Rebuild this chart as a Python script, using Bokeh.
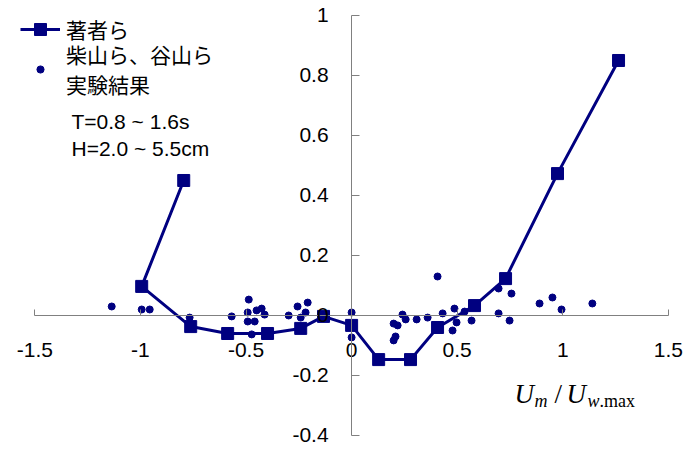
from bokeh.plotting import figure
from bokeh.models import Range1d, FixedTicker, CustomJSTickFormatter, Legend, LegendItem, Label
from bokeh.embed import file_html
from bokeh.resources import INLINE

# ---- data -------------------------------------------------------------
# 著者ら (line + square markers), in drawing order
author_x = [-0.795, -0.994, -0.762, -0.587, -0.398, -0.241, -0.133, 0.0,
            0.128, 0.279, 0.407, 0.582, 0.729, 0.975, 1.264]
author_y = [0.45, 0.097, -0.037, -0.06, -0.06, -0.043, -0.003, -0.033,
            -0.147, -0.147, -0.04, 0.033, 0.123, 0.473, 0.85]

# 柴山ら、谷山ら 実験結果 (dots)
exp_x = [-1.136, -0.994, -0.956, -0.767, -0.568, -0.487, -0.492, -0.45, -0.426,
         -0.412, -0.492, -0.459, -0.473, -0.298, -0.256, -0.208, -0.218, -0.241,
         0.0, 0.0, 0.407, 0.241, 0.256, 0.308, 0.36, 0.431, 0.199, 0.218, 0.199,
         0.208, 0.696, 0.757, 0.89, 0.951, 0.994, 1.14, 0.696, 0.748, 0.487,
         0.535, 0.497, 0.568, 0.478]
exp_y = [0.03, 0.02, 0.02, -0.007, -0.003, 0.053, 0.01, 0.017, 0.023,
         0.003, -0.02, -0.02, -0.063, 0.0, 0.03, 0.043, 0.01, -0.007,
         0.01, -0.073, 0.13, 0.003, -0.013, -0.013, -0.007, 0.007, -0.027, -0.033, -0.083,
         -0.07, 0.09, 0.073, 0.04, 0.06, 0.02, 0.04, 0.007, -0.017, 0.023,
         0.013, -0.023, -0.017, -0.05]

x_ticks = [-1.5, -1, -0.5, 0, 0.5, 1, 1.5]
y_ticks = [-0.4, -0.2, 0, 0.2, 0.4, 0.6, 0.8, 1]
x_bounds = (-1.5, 1.5)
y_bounds = (-0.4, 1.0)

legend_author = "著者ら"
legend_exp = "柴山ら、谷山ら\n実験結果"
note_T = "T=0.8 ~ 1.6s"
note_H = "H=2.0 ~ 5.5cm"

NAVY = "#000080"
GRAY = "#808080"
NUM_FONT = "Liberation Sans"
CJK_FONT = "Noto Sans CJK JP"

# ---- figure -----------------------------------------------------------
p = figure(frame_width=680, frame_height=443,
           x_range=Range1d(-1.62, 1.6), y_range=Range1d(-0.4467, 1.03),
           output_backend="svg", toolbar_location=None,
           min_border_left=9, min_border_top=6, min_border_right=0, min_border_bottom=0)
p.outline_line_color = None
p.grid.visible = False
p.background_fill_color = "white"
p.border_fill_color = "white"

fmt = "return String(tick);"
xa = p.xaxis[0]
xa.fixed_location = 0
xa.bounds = x_bounds
xa.ticker = FixedTicker(ticks=x_ticks)
xa.formatter = CustomJSTickFormatter(code=fmt)
xa.major_tick_in = 6
xa.major_tick_out = 0
xa.minor_tick_in = 0
xa.minor_tick_out = 0
xa.axis_line_color = GRAY
xa.major_tick_line_color = GRAY
xa.major_label_text_font = NUM_FONT
xa.major_label_text_font_size = "21px"
xa.major_label_text_color = "black"
xa.major_label_standoff = 28

ya = p.yaxis[0]
ya.fixed_location = 0
ya.bounds = y_bounds
ya.ticker = FixedTicker(ticks=y_ticks)
ya.formatter = CustomJSTickFormatter(code=fmt)
ya.major_tick_in = 8
ya.major_tick_out = 0
ya.minor_tick_in = 0
ya.minor_tick_out = 0
ya.axis_line_color = GRAY
ya.major_tick_line_color = GRAY
ya.major_label_text_font = NUM_FONT
ya.major_label_text_font_size = "21px"
ya.major_label_text_color = "black"
ya.major_label_standoff = 23

r_line = p.line(author_x, author_y, line_color=NAVY, line_width=3)
r_sq = p.scatter(author_x, author_y, marker="square", size=12, color=NAVY)
r_dot = p.scatter(exp_x, exp_y, marker="circle", size=7, color=NAVY)

common = dict(border_line_color=None, background_fill_alpha=0, padding=0, margin=0,
              spacing=0, glyph_width=40, label_standoff=6,
              label_text_font=CJK_FONT, label_text_font_size="21px",
              label_text_color="black")
leg1 = Legend(items=[LegendItem(label=legend_author, renderers=[r_line, r_sq])],
              location=(11, 405), glyph_height=30, **common)
leg2 = Legend(items=[LegendItem(label=legend_exp, renderers=[r_dot])],
              location=(11, 350), glyph_height=18, label_text_line_height=1.38, **common)
p.add_layout(leg1)
p.add_layout(leg2)

for txt, sy in ((note_T, 328), (note_H, 301)):
    p.add_layout(Label(x=62, y=sy, x_units="screen", y_units="screen", text=txt,
                       text_font=NUM_FONT, text_font_size="21px", text_color="black",
                       text_baseline="middle", text_align="left"))

# axis title  U_m / U_w.max
SERIF = "Liberation Serif"
parts = [("U", 505, 56, "27px", "italic"),
         ("m", 525, 49, "18px", "italic"),
         ("/", 545, 56, "27px", "normal"),
         ("U", 557, 56, "27px", "italic"),
         ("w", 578, 49, "18px", "italic"),
         (".max", 590, 49, "18px", "normal")]
for txt, sx, sy, fs, style in parts:
    p.add_layout(Label(x=sx, y=sy, x_units="screen", y_units="screen", text=txt,
                       text_font=SERIF, text_font_size=fs, text_font_style=style,
                       text_color="black", text_baseline="alphabetic", text_align="left"))

open("out.html", "w").write(file_html(p, INLINE))
